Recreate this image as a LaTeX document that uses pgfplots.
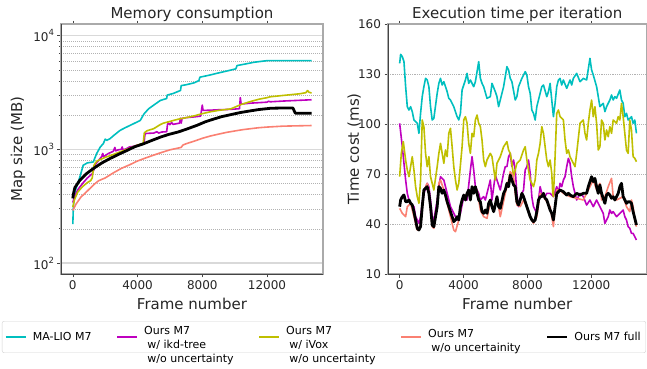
\documentclass[border=0pt]{standalone}
\usepackage{fontspec}
\setmainfont{DejaVu Sans}
\usepackage{pgfplots}
\pgfplotsset{compat=1.18}
\definecolor{mc}{rgb}{0,0.75,0.75}
\definecolor{mm}{rgb}{0.75,0,0.75}
\definecolor{my}{rgb}{0.75,0.75,0}
\definecolor{ms}{HTML}{FA8072}
\definecolor{spdark}{HTML}{444444}
\definecolor{splight}{HTML}{AAAAAA}
\newcommand{\ml}[1]{\begin{tabular}{@{}l@{}}#1\end{tabular}}
\pgfplotsset{
  myaxis/.style={
    scale only axis, height=250pt, anchor=south west,
    enlargelimits=false,
    xmin=-730, xmax=15460,
    xtick={0,4000,8000,12000}, scaled x ticks=false,
    xtick pos=both, ytick pos=left, tick align=outside,
    major tick length=3.5pt, minor tick length=2pt,
    tick style={spdark, line width=0.6pt},
    axis line style={splight, line width=1.5pt},
    /pgf/number format/assume math mode=true,
    /pgf/number format/set thousands separator={},
    tick label style={font=\fontsize{12}{14}\selectfont, text=black!85},
    label style={font=\fontsize{15}{18}\selectfont, text=black!85},
    every axis title shift=0pt,
    title style={font=\fontsize{15}{18}\selectfont, text=black!85, at={(axis description cs:0.5,1.04)}, anchor=center},
    xlabel style={at={(axis description cs:0.5,-0.12)}, anchor=center},
    after end axis/.code={
      \draw[spdark, line width=0.7pt] (rel axis cs:0,1) -- (rel axis cs:0,0) -- (rel axis cs:1,0);
    },
  },
  every axis plot/.append style={line join=round},
}
\begin{document}
\begin{tikzpicture}
\path[use as bounding box] (0,0) rectangle (647pt,368pt);
% ---------------- Memory consumption ----------------
\begin{axis}[myaxis, at={(61pt,94pt)}, width=262pt,
  ymode=log, ymin=80, ymax=12670,
  ytick={100,1000,10000},
  yticklabels={10\raisebox{0.5em}{\fontsize{8.5}{9}\selectfont 2},10\raisebox{0.5em}{\fontsize{8.5}{9}\selectfont 3},10\raisebox{0.5em}{\fontsize{8.5}{9}\selectfont 4}},
  ymajorgrids, yminorgrids,
  major grid style={gray!30, line width=1.5pt},
  minor grid style={gray!60, line width=0.4pt, dash pattern=on 1.2pt off 0.8pt},
  title={Memory consumption}, xlabel={Frame number}, ylabel={Map size (MB)},
  ylabel style={at={(axis description cs:-0.164,0.5)}, anchor=center},
  legend columns=5,
  legend image code/.code={\draw[#1] (0pt,0pt) -- (20pt,0pt);},
  legend style={at={(axis description cs:-0.2252,-0.188)}, anchor=north west,
    draw=gray!35, rounded corners=2pt, font=\fontsize{11}{14.2}\selectfont,
    column sep=0pt,
    /tikz/every odd column/.append style={column sep=4pt},
    /tikz/every even column/.append style={column sep=23pt},
    inner xsep=3pt, inner ysep=1pt},
]
\addplot[mc, line width=1.6pt] coordinates {(0,220)(30,300)(80,380)(150,430)(300,500)(435,571)(642,724)(900,760)(1264,774)(1471,916)(1700,1050)(1886,1122)(2000,1230)(2100,1200)(2300,1242)(2600,1350)(2922,1468)(3200,1540)(3544,1626)(3900,1720)(4166,1795)(4400,2050)(4684,2274)(5000,2450)(5409,2692)(5800,2800)(5830,3000)(6200,3100)(6653,3296)(6700,3640)(7000,3700)(7500,3850)(7793,4025)(7850,4314)(8400,4480)(8932,4677)(9500,4880)(10073,5106)(10150,5460)(10700,5650)(11212,5840)(12041,6040)(14750,6040)};
\addlegendentry{MA-LIO M7}
\addplot[mm, line width=1.6pt] coordinates {(0,340)(100,380)(300,440)(600,500)(900,560)(1200,610)(1300,660)(1400,740)(1600,800)(1800,870)(1850,920)(1900,860)(2200,920)(2500,960)(2600,1040)(2650,970)(2800,990)(3000,1000)(3050,1050)(3100,990)(3300,1010)(3500,1050)(3700,1060)(4000,1090)(4400,1120)(4450,1330)(4500,1380)(5000,1390)(5200,1430)(5300,1390)(5500,1420)(5800,1430)(5850,1650)(5900,1700)(6000,1650)(6100,1720)(6200,1660)(6400,1680)(6600,1700)(6650,1880)(6700,1700)(6750,1870)(7000,1900)(7500,1930)(7900,1960)(7950,2200)(8000,2450)(8050,2200)(8500,2210)(9000,2230)(9500,2240)(10000,2260)(10300,2280)(10350,2850)(10400,2500)(11000,2550)(12000,2600)(12100,2650)(12200,2620)(13000,2660)(14750,2730)};
\addlegendentry{\ml{Ours M7\\\hspace{0.3em}w/ ikd-tree\\\hspace{0.3em}w/o uncertainty}}
\addplot[my, line width=1.6pt] coordinates {(0,310)(100,360)(300,420)(600,470)(900,510)(1100,530)(1200,560)(1300,720)(1400,760)(1500,790)(2000,850)(2500,900)(3000,960)(3500,1020)(4000,1090)(4350,1130)(4420,1400)(4600,1460)(5000,1520)(5400,1650)(5600,1700)(6000,1760)(6500,1840)(7000,1900)(7500,1970)(8000,2060)(8500,2140)(9000,2200)(9762,2270)(10400,2480)(11000,2640)(11500,2760)(12000,2850)(12200,2900)(13000,2980)(14000,3080)(14400,3150)(14500,3290)(14600,3180)(14750,3130)};
\addlegendentry{\ml{Ours M7\\\hspace{0.3em}w/ iVox\\\hspace{0.3em}w/o uncertainty}}
\addplot[ms, line width=1.6pt] coordinates {(0,290)(200,330)(500,380)(900,430)(1300,490)(1600,530)(2000,560)(2500,620)(3000,680)(3500,730)(4000,790)(4500,840)(5000,890)(5500,940)(6000,990)(6700,1040)(6800,1090)(7000,1120)(7500,1180)(8000,1250)(8500,1310)(9000,1360)(9500,1410)(10000,1450)(10500,1490)(11000,1520)(11500,1550)(12000,1570)(13000,1600)(14750,1620)};
\addlegendentry{\ml{Ours M7\\\hspace{0.3em}w/o uncertainity}}
\addplot[black, line width=2.8pt] coordinates {(0,370)(30,400)(124,460)(435,535)(850,612)(1264,677)(1800,760)(2300,830)(2800,900)(3337,975)(3800,1050)(4373,1120)(4900,1200)(5409,1280)(5900,1350)(6500,1420)(7000,1500)(7689,1630)(8200,1750)(8725,1850)(9200,1940)(9762,2020)(10300,2100)(10798,2160)(11500,2240)(12249,2300)(13000,2310)(13600,2310)(13700,2150)(13750,2080)(14750,2080)};
\addlegendentry{Ours M7 full}
\end{axis}
% ---------------- Execution time ----------------
\begin{axis}[myaxis, at={(388pt,94pt)}, width=258.5pt,
  ymin=10, ymax=160, ytick={10,40,70,100,130,160},
  ymajorgrids,
  major grid style={gray!60, line width=0.5pt, dash pattern=on 1.2pt off 1pt},
  title={Execution time per iteration}, xlabel={Frame number}, ylabel={Time cost (ms)},
  ylabel style={at={(axis description cs:-0.131,0.5)}, anchor=center},
]
\addplot[mc, line width=1.6pt] coordinates {(0,136.4)(62,141.8)(166,140.4)(270,137.4)(374,122.4)(478,110.4)(582,108.4)(686,110.4)(790,107.4)(894,102.4)(1102,100.4)(1206,94.4)(1310,106.4)(1414,116.4)(1518,122.4)(1622,127.4)(1726,126.4)(1830,122.4)(1934,110.4)(2038,102.4)(2142,103.4)(2350,118.4)(2454,124.4)(2558,127.4)(2662,123.4)(2766,125.4)(2870,122.4)(2974,119.4)(3078,115.4)(3182,114.4)(3390,110.4)(3598,104.4)(3702,102.4)(3806,106.4)(3910,120.4)(4118,126.4)(4222,130.4)(4326,124.4)(4430,126.4)(4638,122.4)(4742,125.4)(4950,137.4)(5054,127.4)(5158,124.4)(5262,122.4)(5470,115.4)(5678,116.4)(5782,124.4)(5990,119.4)(6094,116.4)(6198,110.4)(6302,114.4)(6510,122.4)(6718,134.4)(6822,132.4)(6926,127.4)(7030,125.4)(7238,114.4)(7342,116.4)(7446,122.4)(7654,127.4)(7862,131.4)(7966,129.4)(8070,122.4)(8174,118.4)(8278,108.4)(8382,106.4)(8486,102.4)(8590,110.4)(8694,114.4)(8902,122.4)(9006,123.4)(9214,116.4)(9318,119.4)(9422,124.4)(9630,104.4)(9734,112.4)(9838,122.4)(9942,126.4)(10046,127.4)(10150,123.4)(10254,126.4)(10462,121.4)(10670,126.4)(10774,123.4)(10878,127.4)(11086,130.4)(11294,125.4)(11502,127.4)(11710,126.4)(11918,139.4)(12022,132.4)(12126,129.4)(12334,122.4)(12438,116.4)(12542,110.4)(12750,112.4)(12854,107.4)(12958,110.4)(13166,114.4)(13270,117.4)(13374,114.4)(13478,116.4)(13582,115.4)(13790,120.4)(13894,114.4)(13998,112.4)(14102,104.4)(14206,106.4)(14310,102.4)(14518,104.4)(14622,100.4)(14726,102.4)(14830,94.4)};
\addplot[mm, line width=1.6pt] coordinates {(0,100.4)(166,86.4)(270,76.4)(374,66.4)(478,58.4)(582,54.4)(686,52.4)(894,50.4)(998,44.4)(1102,42.4)(1206,40.4)(1310,44.4)(1414,52.4)(1518,58.4)(1726,64.4)(1830,62.4)(1934,54.4)(2038,44.4)(2142,42.4)(2350,54.4)(2454,62.4)(2558,68.4)(2766,66.4)(2974,58.4)(3182,50.4)(3390,46.4)(3598,42.4)(3806,46.4)(4014,56.4)(4222,54.4)(4430,72.4)(4534,80.4)(4638,72.4)(4742,62.4)(4950,58.4)(5054,54.4)(5262,56.4)(5366,54.4)(5470,58.4)(5574,62.4)(5678,66.4)(5782,54.4)(5990,69.4)(6094,66.4)(6302,60.4)(6510,70.4)(6614,74.4)(6718,74.4)(6822,80.4)(6926,82.4)(7030,74.4)(7134,78.4)(7238,72.4)(7342,58.4)(7446,50.4)(7550,54.4)(7654,58.4)(7758,60.4)(7862,72.4)(7966,74.4)(8070,78.4)(8174,70.4)(8278,56.4)(8382,50.4)(8590,46.4)(8798,62.4)(8902,58.4)(9110,56.4)(9214,58.4)(9422,58.4)(9630,56.4)(9838,62.4)(9942,58.4)(10046,64.4)(10150,62.4)(10254,66.4)(10358,68.4)(10462,74.4)(10566,79.4)(10670,76.4)(10774,68.4)(10878,62.4)(11086,54.4)(11294,58.4)(11502,56.4)(11710,51.4)(11918,54.4)(12126,50.4)(12334,54.4)(12542,50.4)(12750,46.4)(12854,40.4)(12958,42.4)(13062,44.4)(13166,48.4)(13270,46.4)(13374,47.4)(13582,44.4)(13790,46.4)(13998,48.4)(14102,44.4)(14206,42.4)(14310,38.4)(14414,37.4)(14518,34.4)(14622,34.4)(14726,32.4)(14830,30.4)};
\addplot[my, line width=1.6pt] coordinates {(0,68.4)(104,82.4)(229,89.4)(374,78.4)(478,72.4)(582,68.4)(686,74.4)(790,80.4)(894,72.4)(998,62.4)(1102,56.4)(1206,52.4)(1310,66.4)(1414,102.4)(1518,98.4)(1622,82.4)(1726,74.4)(1830,80.4)(1934,68.4)(2142,60.4)(2350,74.4)(2454,82.4)(2558,88.4)(2662,82.4)(2766,76.4)(2870,84.4)(2974,80.4)(3078,94.4)(3182,97.4)(3286,86.4)(3390,74.4)(3494,66.4)(3598,60.4)(3702,64.4)(3910,86.4)(4014,102.4)(4118,104.4)(4222,100.4)(4326,88.4)(4430,82.4)(4534,94.4)(4638,92.4)(4742,102.4)(4846,105.4)(4950,100.4)(5054,98.4)(5158,90.4)(5262,78.4)(5366,74.4)(5470,78.4)(5574,80.4)(5678,82.4)(5782,80.4)(5990,66.4)(6094,76.4)(6302,80.4)(6510,86.4)(6718,89.4)(6822,84.4)(6926,82.4)(7030,76.4)(7134,68.4)(7342,76.4)(7550,78.4)(7758,84.4)(7862,86.4)(7966,78.4)(8070,72.4)(8174,66.4)(8278,64.4)(8382,62.4)(8486,66.4)(8590,78.4)(8694,82.4)(8798,88.4)(8902,98.4)(9006,94.4)(9110,86.4)(9214,78.4)(9318,74.4)(9422,78.4)(9526,70.4)(9588,58.4)(9630,56.4)(9734,80.4)(9838,106.4)(9942,108.4)(10046,104.4)(10254,102.4)(10358,90.4)(10462,82.4)(10566,84.4)(10670,80.4)(10878,76.4)(10982,74.4)(11086,82.4)(11294,100.4)(11502,102.4)(11606,94.4)(11710,90.4)(11814,100.4)(11918,108.4)(12022,114.4)(12126,104.4)(12230,110.4)(12334,100.4)(12438,84.4)(12542,86.4)(12646,102.4)(12750,100.4)(12854,90.4)(12958,96.4)(13062,92.4)(13166,98.4)(13270,94.4)(13374,102.4)(13582,100.4)(13686,104.4)(13790,102.4)(13894,112.4)(13998,104.4)(14102,94.4)(14206,84.4)(14310,82.4)(14414,102.4)(14518,96.4)(14622,80.4)(14726,79.4)(14830,77.4)};
\addplot[ms, line width=1.6pt] coordinates {(0,49.4)(166,46.4)(374,44.4)(478,50.4)(686,52.4)(894,44.4)(1102,36.4)(1206,37.4)(1310,39.4)(1518,60.4)(1726,64.4)(1830,60.4)(1934,48.4)(2038,38.4)(2142,37.4)(2350,50.4)(2454,64.4)(2558,66.4)(2766,60.4)(2974,52.4)(3182,44.4)(3390,36.4)(3494,35.4)(3702,42.4)(3910,54.4)(4222,58.4)(4534,60.4)(4846,60.4)(5054,48.4)(5262,44.4)(5470,43.4)(5678,53.4)(5886,48.4)(6094,56.4)(6302,44.4)(6614,58.4)(6822,66.4)(6926,71.4)(7134,68.4)(7238,58.4)(7342,51.4)(7550,50.4)(7758,54.4)(7966,50.4)(8174,44.4)(8382,40.4)(8590,44.4)(8798,58.4)(9006,56.4)(9214,53.4)(9422,50.4)(9630,38.4)(9838,60.4)(10046,60.4)(10254,58.4)(10670,56.4)(11086,55.4)(11502,54.4)(11710,58.4)(11918,62.4)(12126,66.4)(12334,60.4)(12542,64.4)(12646,54.4)(12854,56.4)(13062,62.4)(13270,67.4)(13374,56.4)(13582,54.4)(13790,55.4)(13998,56.4)(14206,50.4)(14414,47.4)(14518,54.4)(14622,50.4)(14726,42.4)(14830,38.4)};
\addplot[black, line width=2.8pt] coordinates {(0,50.4)(62,54.4)(166,56.4)(270,57.4)(374,53.4)(478,53.4)(582,54.4)(686,52.4)(790,51.4)(894,47.4)(998,42.4)(1102,37.4)(1206,36.4)(1310,38.4)(1414,50.4)(1518,60.4)(1726,62.4)(1830,58.4)(1934,50.4)(2038,39.4)(2142,38.4)(2350,50.4)(2454,62.4)(2558,61.4)(2662,58.4)(2766,60.4)(2870,57.4)(2974,53.4)(3078,50.4)(3182,47.4)(3286,44.4)(3390,41.4)(3494,42.4)(3598,44.4)(3702,42.4)(3806,50.4)(3910,54.4)(4014,57.4)(4118,54.4)(4222,58.4)(4326,60.4)(4430,54.4)(4534,62.4)(4638,58.4)(4742,62.4)(4846,58.4)(4950,54.4)(5054,53.4)(5158,47.4)(5262,46.4)(5366,48.4)(5470,46.4)(5574,52.4)(5678,54.4)(5782,50.4)(5886,47.4)(5990,51.4)(6094,56.4)(6198,50.4)(6302,49.4)(6510,58.4)(6614,60.4)(6718,64.4)(6822,62.4)(6926,69.4)(7030,66.4)(7134,63.4)(7238,62.4)(7342,53.4)(7446,51.4)(7550,54.4)(7654,58.4)(7758,56.4)(7862,53.4)(7966,50.4)(8174,44.4)(8278,42.4)(8382,41.4)(8486,42.4)(8590,47.4)(8694,54.4)(8798,56.4)(8902,56.4)(9006,58.4)(9110,55.4)(9214,54.4)(9318,51.4)(9422,48.4)(9526,46.4)(9630,42.4)(9734,50.4)(9838,58.4)(10046,60.4)(10254,59.4)(10462,57.4)(10566,58.4)(10670,57.4)(10878,56.4)(11086,58.4)(11294,57.4)(11502,58.4)(11710,58.4)(11814,62.4)(11918,65.4)(12022,68.4)(12126,65.4)(12230,67.4)(12334,62.4)(12438,58.4)(12542,63.4)(12646,58.4)(12750,55.4)(12854,52.4)(12958,57.4)(13062,58.4)(13166,57.4)(13270,55.4)(13374,56.4)(13478,54.4)(13582,56.4)(13686,58.4)(13790,62.4)(13894,64.4)(13998,56.4)(14102,54.4)(14206,52.4)(14310,53.4)(14414,53.4)(14518,52.4)(14622,47.4)(14726,43.4)(14830,39.4)};
\end{axis}
\end{tikzpicture}
\end{document}
